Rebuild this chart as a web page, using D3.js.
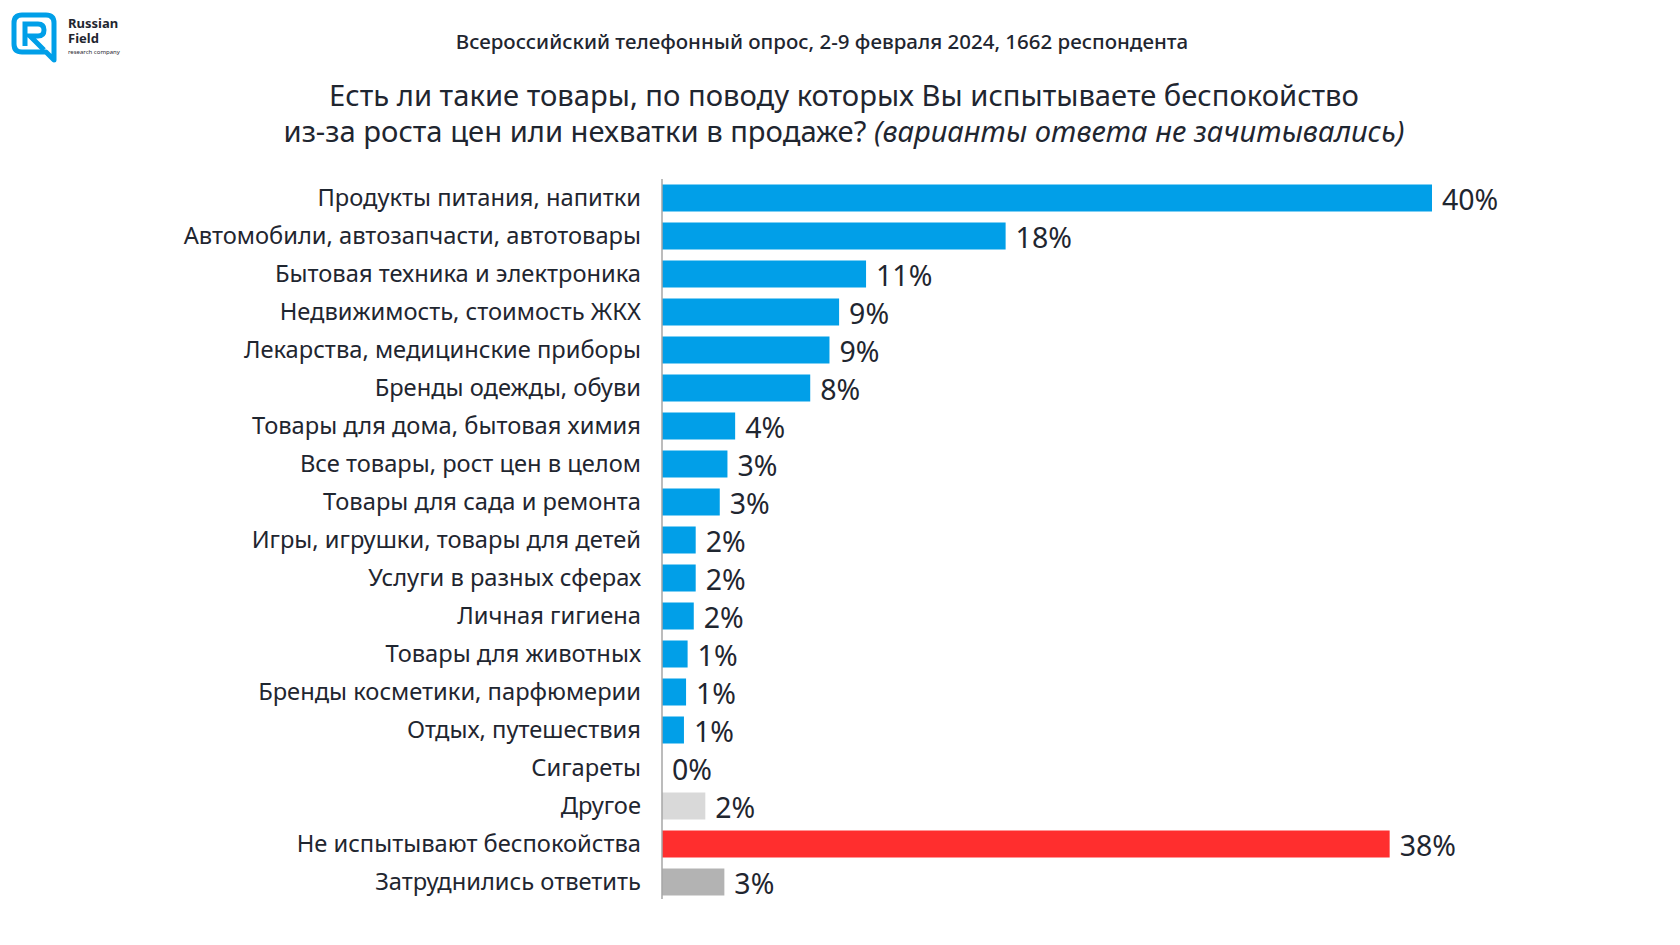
<!DOCTYPE html>
<html>
<head>
<meta charset="utf-8">
<script src="https://cdn.jsdelivr.net/npm/d3@7"></script>
<style>
  body { margin: 0; background: #fff; }
  svg text { font-family: "Noto Sans", sans-serif; fill: #1f2630; }
</style>
</head>
<body>
<svg id="chart" width="1680" height="945"></svg>
<script>
// answers, top to bottom
const categories = [
  "Продукты питания, напитки",
  "Автомобили, автозапчасти, автотовары",
  "Бытовая техника и электроника",
  "Недвижимость, стоимость ЖКХ",
  "Лекарства, медицинские приборы",
  "Бренды одежды, обуви",
  "Товары для дома, бытовая химия",
  "Все товары, рост цен в целом",
  "Товары для сада и ремонта",
  "Игры, игрушки, товары для детей",
  "Услуги в разных сферах",
  "Личная гигиена",
  "Товары для животных",
  "Бренды косметики, парфюмерии",
  "Отдых, путешествия",
  "Сигареты",
  "Другое",
  "Не испытывают беспокойства",
  "Затруднились ответить"
];
// bar lengths (%)
const shares = [40, 17.85, 10.6, 9.2, 8.7, 7.7, 3.8, 3.4, 3.0, 1.75, 1.75, 1.65, 1.33, 1.25, 1.14, 0, 2.25, 37.8, 3.24];
// printed labels
const shareLabels = ["40%", "18%", "11%", "9%", "9%", "8%", "4%", "3%", "3%", "2%", "2%", "2%", "1%", "1%", "1%", "0%", "2%", "38%", "3%"];
// colour group of each row
const groups = ["item","item","item","item","item","item","item","item","item","item","item","item","item","item","item","item","other","none","dk"];

const colors = { item: "#019fe8", other: "#d9d9d9", none: "#ff2e2e", dk: "#b3b3b3" };

const svg = d3.select("#chart");
const rows = categories.map((c, i) => ({ cat: c, v: shares[i], lab: shareLabels[i], g: groups[i] }));

const x0 = 662;
const x = d3.scaleLinear().domain([0, 40]).range([x0, x0 + 770]);
const y = d3.scaleBand().domain(categories).range([179, 901]).paddingInner(11 / 38).paddingOuter(5.5 / 38);

// bars
svg.append("g").selectAll("rect")
  .data(rows)
  .join("rect")
    .attr("x", x(0))
    .attr("y", d => y(d.cat))
    .attr("width", d => x(d.v) - x(0))
    .attr("height", y.bandwidth())
    .attr("fill", d => colors[d.g]);

// axis line
svg.append("line")
  .attr("x1", x0).attr("x2", x0)
  .attr("y1", 179).attr("y2", 899)
  .attr("stroke", "#a6a6a6").attr("stroke-width", 1.5);

// category labels
svg.append("g").selectAll("text")
  .data(rows)
  .join("text")
    .attr("x", 641)
    .attr("y", d => y(d.cat) + y.bandwidth() / 2 - 1)
    .attr("text-anchor", "end")
    .attr("dominant-baseline", "central")
    .style("font-size", "23.7px")
    .text(d => d.cat);

// value labels
svg.append("g").selectAll("text")
  .data(rows)
  .join("text")
    .attr("x", d => x(d.v) + 10)
    .attr("y", d => y(d.cat) + y.bandwidth() / 2 + 1)
    .attr("dominant-baseline", "central")
    .style("font-size", "28.5px")
    .text(d => d.lab);

// headings
svg.append("text")
  .attr("x", 822).attr("y", 49)
  .attr("text-anchor", "middle")
  .style("font-size", "20.5px")
  .style("font-weight", 500)
  .text("Всероссийский телефонный опрос, 2-9 февраля 2024, 1662 респондента");

svg.append("text")
  .attr("x", 844).attr("y", 106)
  .attr("text-anchor", "middle")
  .style("font-size", "29.2px")
  .text("Есть ли такие товары, по поводу которых Вы испытываете беспокойство");

const t2 = svg.append("text")
  .attr("x", 844).attr("y", 142)
  .attr("text-anchor", "middle")
  .style("font-size", "29.2px");
t2.append("tspan").text("из-за роста цен или нехватки в продаже? ");
t2.append("tspan").style("font-style", "italic").text("(варианты ответа не зачитывались)");

// logo
const logo = svg.append("g");
logo.append("path")
  .attr("d", "M22,15 H46 Q54,15 54,23 V60 L46,52 H22 Q14,52 14,44 V23 Q14,15 22,15 Z")
  .attr("fill", "none").attr("stroke", "#019fe8").attr("stroke-width", 5).attr("stroke-linejoin", "round");
logo.append("path")
  .attr("d", "M25,46 V24 H38 Q44,24 44,30 Q44,36 38,36 H30 L44,50")
  .attr("fill", "none").attr("stroke", "#019fe8").attr("stroke-width", 5);
logo.append("text").attr("x", 68).attr("y", 28)
  .style("font-size", "13px").style("font-weight", "bold").text("Russian");
logo.append("text").attr("x", 68).attr("y", 43)
  .style("font-size", "13px").style("font-weight", "bold").text("Field");
logo.append("text").attr("x", 68).attr("y", 54)
  .style("font-size", "6px").text("research company");
</script>
</body>
</html>
